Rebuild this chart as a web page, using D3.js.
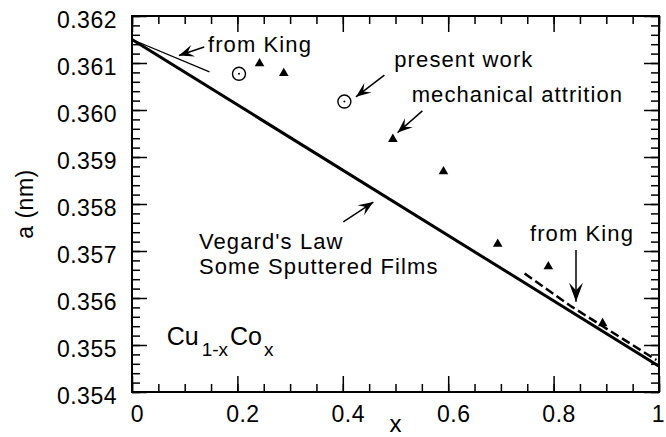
<!DOCTYPE html>
<html>
<head>
<meta charset="utf-8">
<script src="https://cdn.jsdelivr.net/npm/d3@7"></script>
<style>
  body { margin: 0; background: #fff; }
  text { font-family: "Liberation Sans", Arial, Helvetica, sans-serif; fill: #000; }
</style>
</head>
<body>
<div id="chart"></div>
<script>
/*
*   Lattice parameter a of Cu(1-x)Co(x) against composition x
*/

//Vegard's law, straight line between the pure ends
var vegardX = [0, 1];
var vegardA = [0.36150, 0.35455];

//King's line at the Cu rich end (thin)
var kingTopX = [0, 0.147];
var kingTopA = [0.36150, 0.36081];

//King's line at the Co rich end (dashed)
var kingBotX = [0.745, 0.835, 0.995];
var kingBotA = [0.35652, 0.35581, 0.35468];

//present work, open circles
var presentX = [0.203, 0.403];
var presentA = [0.36077, 0.36018];

//mechanical attrition, filled triangles
var attritionX = [0.242, 0.288, 0.495, 0.591, 0.694, 0.790, 0.893];
var attritionA = [0.36099, 0.36078, 0.35938, 0.35869, 0.35715, 0.35667, 0.35546];

//tick labels
var xTicks = [0, 0.2, 0.4, 0.6, 0.8, 1];
var xTickLabels = ["0", "0.2", "0.4", "0.6", "0.8", "1"];
var yTicks = [0.354, 0.355, 0.356, 0.357, 0.358, 0.359, 0.360, 0.361, 0.362];
var yTickLabels = ["0.354", "0.355", "0.356", "0.357", "0.358", "0.359", "0.360", "0.361", "0.362"];

//Standard Dimension and Margin setup
var margin = { top: 16, right: 7, bottom: 45, left: 132 },
width = 666 - margin.left - margin.right,
height = 437 - margin.top - margin.bottom;

var svg = d3.select("#chart")
      .append("svg")
      .attr("width", width + margin.left + margin.right)
      .attr("height", height + margin.top + margin.bottom)
      .append("g")
      .attr("transform", `translate(${margin.left}, ${margin.top})`);

const x = d3.scaleLinear().domain([0, 1]).range([0, width]);
const y = d3.scaleLinear().domain([0.354, 0.362]).range([height, 0]);

//minor ticks first, then the major ones, all pointing inwards
function ticks(axis, vals, size, pad, fmt) {
  return axis.tickValues(vals).tickSize(-size).tickPadding(pad).tickFormat(fmt);
}
var xMinor = x.ticks(20), yMinor = y.ticks(40);
var none = () => "";

svg.append("g").attr("transform", `translate(0, ${height})`)
  .call(ticks(d3.axisBottom(x), xMinor, 8, 0, none));
svg.append("g").call(ticks(d3.axisTop(x), xMinor, 8, 0, none));
svg.append("g").call(ticks(d3.axisLeft(y), yMinor, 8, 0, none));
svg.append("g").attr("transform", `translate(${width}, 0)`)
  .call(ticks(d3.axisRight(y), yMinor, 8, 0, none));

var xb = svg.append("g").attr("transform", `translate(0, ${height})`)
  .call(ticks(d3.axisBottom(x), xTicks, 16, 14, (d, i) => xTickLabels[i]));
svg.append("g").call(ticks(d3.axisTop(x), xTicks, 16, 0, none));
var yl = svg.append("g")
  .call(ticks(d3.axisLeft(y), yTicks, 15, 15, (d, i) => yTickLabels[i]));
svg.append("g").attr("transform", `translate(${width}, 0)`)
  .call(ticks(d3.axisRight(y), yTicks, 15, 0, none));

svg.selectAll(".domain").remove();
svg.selectAll(".tick line").attr("stroke", "#000").attr("stroke-width", 1.5);
svg.selectAll(".tick text").style("font-size", "23px").style("letter-spacing", "0.5px").attr("fill", "#000");
xb.selectAll(".tick text").attr("dy", "0.71em").attr("dx", (d, i) => i == xTicks.length - 1 ? -1 : 5);
yl.selectAll(".tick text").attr("dy", "0.5em");

//frame
svg.append("rect")
  .attr("width", width).attr("height", height)
  .attr("fill", "none").attr("stroke", "#000").attr("stroke-width", 2);

//lines
var line = d3.line().x(d => x(d[0])).y(d => y(d[1]));
svg.append("path").datum(d3.zip(vegardX, vegardA))
  .attr("d", line).attr("fill", "none").attr("stroke", "#000").attr("stroke-width", 3);
svg.append("path").datum(d3.zip(kingTopX, kingTopA))
  .attr("d", line).attr("fill", "none").attr("stroke", "#000").attr("stroke-width", 1.3);
svg.append("path").datum(d3.zip(kingBotX, kingBotA))
  .attr("d", line).attr("fill", "none").attr("stroke", "#000").attr("stroke-width", 2.5)
  .attr("stroke-dasharray", "9,4");

//present work circles with a dot in the middle
var circ = svg.append("g").selectAll("g").data(d3.zip(presentX, presentA)).join("g")
  .attr("transform", d => `translate(${x(d[0])}, ${y(d[1])})`);
circ.append("circle").attr("r", 6.5).attr("fill", "#fff").attr("stroke", "#000").attr("stroke-width", 1.4);
circ.append("circle").attr("r", 1).attr("fill", "#000");

//mechanical attrition triangles
svg.append("g").selectAll("path").data(d3.zip(attritionX, attritionA)).join("path")
  .attr("d", d3.symbol(d3.symbolTriangle, 40))
  .attr("transform", d => `translate(${x(d[0])}, ${y(d[1])})`)
  .attr("fill", "#000");

//arrows: tail -> tip, in data units
var arrows = [
  { from: [0.137, 0.36134], to: [0.089, 0.36116] },
  { from: [0.479, 0.36074], to: [0.425, 0.36028] },
  { from: [0.551, 0.35998], to: [0.504, 0.35952] },
  { from: [0.401, 0.35762], to: [0.458, 0.35804] },
  { from: [0.8425, 0.35702], to: [0.8425, 0.35592], big: true }
];
arrows.forEach(function(a) {
  var x1 = x(a.from[0]), y1 = y(a.from[1]), x2 = x(a.to[0]), y2 = y(a.to[1]);
  var ang = Math.atan2(y2 - y1, x2 - x1) * 180 / Math.PI;
  var L = a.big ? 19 : 15, W = a.big ? 7 : 6;
  svg.append("line").attr("x1", x1).attr("y1", y1).attr("x2", x2).attr("y2", y2)
    .attr("stroke", "#000").attr("stroke-width", 1.5);
  svg.append("path")
    .attr("d", `M0,0L${-L},${-W}L${-L * 0.6},0L${-L},${W}Z`)
    .attr("transform", `translate(${x2}, ${y2}) rotate(${ang})`)
    .attr("fill", "#000");
});

//annotation texts, left/baseline in data units
var notes = [
  { t: "from King", at: [0.1442, 0.36123] },
  { t: "present work", at: [0.4977, 0.36092] },
  { t: "mechanical attrition", at: [0.5307, 0.36016] },
  { t: "Vegard's Law", at: [0.1271, 0.35704] },
  { t: "Some Sputtered Films", at: [0.1271, 0.35651] },
  { t: "from King", at: [0.7552, 0.35722] }
];
svg.append("g").selectAll("text").data(notes).join("text")
  .attr("x", d => x(d.at[0])).attr("y", d => y(d.at[1]))
  .style("font-size", "22px").style("letter-spacing", "1.1px")
  .text(d => d.t);

//Cu(1-x)Co(x)
var cu = svg.append("text").attr("x", x(0.0658)).attr("y", y(0.35500));
cu.append("tspan").style("font-size", "25px").text("Cu");
cu.append("tspan").style("font-size", "19px").attr("dx", 3).attr("dy", 11).text("1-x");
cu.append("tspan").style("font-size", "25px").attr("dx", 2).attr("dy", -11).text("Co");
cu.append("tspan").style("font-size", "19px").attr("dx", 2).attr("dy", 11).text("x");

//axis titles
svg.append("text")
  .attr("transform", `translate(${33 - margin.left}, ${height / 2}) rotate(-90)`)
  .attr("text-anchor", "middle").style("font-size", "23px").style("letter-spacing", "0.5px")
  .text("a (nm)");
svg.append("text")
  .attr("x", width / 2).attr("y", height + 40)
  .attr("text-anchor", "middle").style("font-size", "24px")
  .text("x");
</script>
</body>
</html>
